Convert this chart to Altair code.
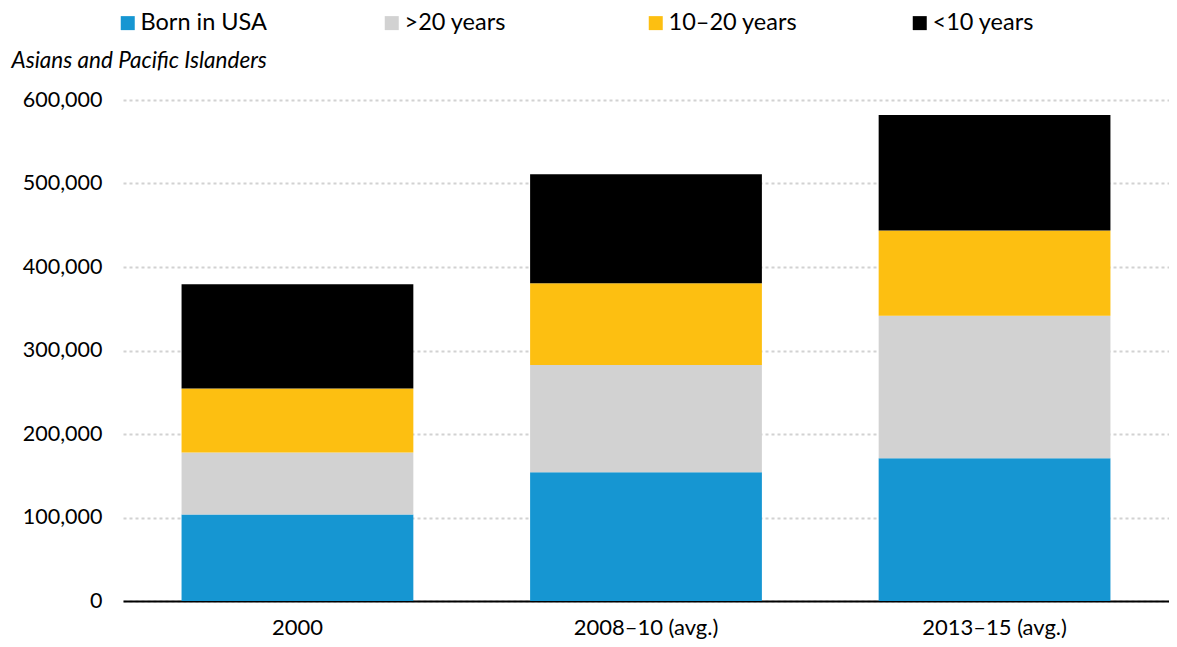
import altair as alt
import pandas as pd

periods = ["2000", "2008–10 (avg.)", "2013–15 (avg.)"]
groups = ["Born in USA", ">20 years", "10–20 years", "<10 years"]
colors = ["#1696d2", "#d2d2d2", "#fdbf11", "#000000"]

born_usa = [103600, 154300, 171100]
over_20 = [74100, 128400, 170600]
ten_20 = [76700, 97700, 102100]
under_10 = [124900, 130800, 138300]

y_ticks = [0, 100000, 200000, 300000, 400000, 500000, 600000]

rows = []
for i, p in enumerate(periods):
    for k, (g, vals) in enumerate(zip(groups, [born_usa, over_20, ten_20, under_10])):
        rows.append({"period": p, "group": g, "order": k, "value": vals[i]})
df = pd.DataFrame(rows)

chart = (
    alt.Chart(df)
    .mark_bar()
    .encode(
        x=alt.X(
            "period:N",
            sort=periods,
            scale=alt.Scale(paddingInner=0.335, paddingOuter=0.168),
            axis=alt.Axis(
                title=None,
                labelAngle=0,
                labelFont="Lato",
                labelFontSize=22,
                labelColor="#000000",
                labelPadding=16,
                ticks=False,
                domain=True,
                domainColor="#000000",
                domainWidth=2,
                grid=False,
            ),
        ),
        y=alt.Y(
            "value:Q",
            stack="zero",
            scale=alt.Scale(domain=[0, 600000], nice=False),
            axis=alt.Axis(
                title="Asians and Pacific Islanders",
                titleAngle=0,
                titleAlign="left",
                titleBaseline="alphabetic",
                titleX=-112,
                titleY=-33,
                titleFont="Lato",
                titleFontSize=22.5,
                titleFontStyle="italic",
                titleFontWeight="normal",
                titleColor="#000000",
                values=y_ticks,
                format=",d",
                labelFont="Lato",
                labelFontSize=21.5,
                labelColor="#000000",
                labelPadding=21,
                ticks=False,
                domain=False,
                grid=True,
                gridColor="#d2d2d2",
                gridDash=[3, 3],
                gridWidth=2,
            ),
        ),
        color=alt.Color(
            "group:N",
            sort=groups,
            scale=alt.Scale(domain=groups, range=colors),
            legend=alt.Legend(
                title=None,
                orient="none",
                legendX=-7,
                legendY=-89,
                padding=0,
                direction="horizontal",
                columns=4,
                gridAlign="all",
                columnPadding=110,
                symbolType="square",
                symbolSize=196,
                symbolStrokeWidth=0,
                labelOffset=1,
                labelFont="Lato",
                labelFontSize=23.5,
                labelColor="#000000",
                labelLimit=300,
            ),
        ),
        order=alt.Order("order:Q", sort="ascending"),
    )
    .properties(
        width=1046,
        height=501,
        autosize=alt.AutoSizeParams(type="none"),
        padding={"left": 115, "top": 92, "right": 0, "bottom": 38},
    )
    .configure_view(stroke=None)
)

chart.save("out.html", embed_options={"renderer": "svg", "actions": False})
